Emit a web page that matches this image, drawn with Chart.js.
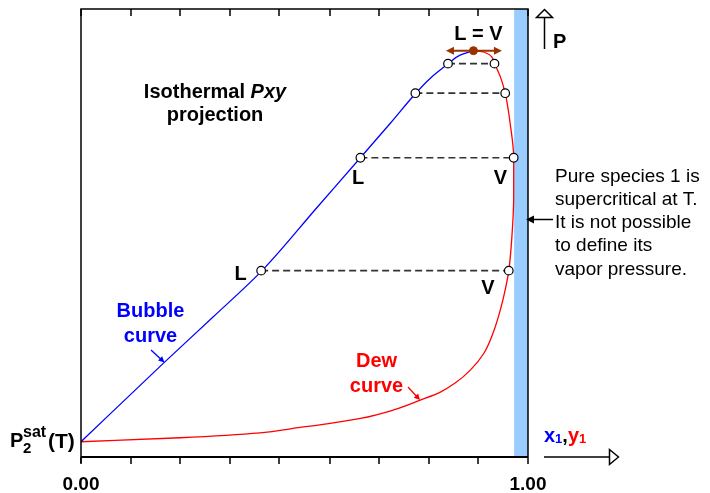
<!DOCTYPE html>
<html>
<head>
<meta charset="utf-8">
<script src="https://cdn.jsdelivr.net/npm/chart.js@4.4.1/dist/chart.umd.min.js"></script>
<style>
  html, body { margin: 0; padding: 0; background: #fff; }
</style>
</head>
<body>
<canvas id="chart" width="710" height="493"></canvas>
<script>
// bubble curve: liquid mole fraction x1 vs P
const bubbleX = [0, 0.184, 0.296, 0.405, 0.528, 0.625, 0.692, 0.749, 0.781, 0.822, 0.848, 0.878];
const bubbleP = [3.4, 20.9, 31.3, 41.6, 55.7, 66.8, 74.5, 81.2, 84.5, 87.8, 89.7, 90.7];

// dew curve: vapour mole fraction y1 vs P
const dewY = [0, 0.222, 0.401, 0.475, 0.550, 0.625, 0.699, 0.759, 0.804, 0.837, 0.871, 0.901, 0.923,
              0.938, 0.949, 0.957, 0.964, 0.968, 0.968, 0.960, 0.949, 0.938, 0.925, 0.901, 0.878];
const dewP = [3.4, 4.3, 5.4, 6.4, 7.4, 8.6, 10.5, 12.7, 14.5, 16.5, 19.4, 23.1, 28.0,
              32.8, 37.3, 41.6, 49.2, 58.1, 66.8, 74.5, 81.2, 84.9, 87.8, 90.4, 90.7];

// tie lines
const tieP = [41.6, 66.8, 81.2, 87.8];
const tieLiq = [0.403, 0.625, 0.748, 0.821];
const tieVap = [0.957, 0.968, 0.949, 0.925];

// critical point
const critX = 0.878;
const critP = 90.7;

// region where species 1 is supercritical
const superX = [0.969, 1.0];

const xTicks = [0, 0.111, 0.222, 0.333, 0.444, 0.556, 0.667, 0.778, 0.889, 1];
const xTickLabels = ["0.00", "", "", "", "", "", "", "", "", "1.00"];

const FONT = "'Liberation Sans', Arial, sans-serif";

function pts(xs, ys) {
  return xs.map((v, i) => ({ x: v, y: ys[i] }));
}

function head(ctx, tx, ty, ang, len, half, filled) {
  const c = Math.cos(ang), s = Math.sin(ang);
  const bx = tx - len * c, by = ty - len * s;
  ctx.beginPath();
  ctx.moveTo(tx, ty);
  ctx.lineTo(bx - half * s, by + half * c);
  ctx.lineTo(bx + half * s, by - half * c);
  ctx.closePath();
  if (filled) {
    ctx.fill();
  } else {
    ctx.fillStyle = "#fff";
    ctx.fill();
    ctx.stroke();
  }
}

function arrow(ctx, x1, y1, x2, y2, len, half) {
  const ang = Math.atan2(y2 - y1, x2 - x1);
  ctx.beginPath();
  ctx.moveTo(x1, y1);
  ctx.lineTo(x2 - len * 0.8 * Math.cos(ang), y2 - len * 0.8 * Math.sin(ang));
  ctx.stroke();
  head(ctx, x2, y2, ang, len, half, true);
}

function text(ctx, str, x, y, font, color, align) {
  ctx.font = font;
  ctx.fillStyle = color;
  ctx.textAlign = align || "center";
  ctx.textBaseline = "alphabetic";
  ctx.fillText(str, x, y);
}

const decor = {
  id: "decor",
  beforeDatasetsDraw(chart) {
    const { ctx, chartArea: a, scales: { x } } = chart;
    const x0 = x.getPixelForValue(superX[0]);
    const x1 = x.getPixelForValue(superX[1]);
    ctx.save();
    ctx.fillStyle = "#99CCFF";
    ctx.fillRect(x0, a.top, x1 - x0, a.bottom - a.top);
    ctx.restore();
  },
  afterDatasetsDraw(chart) {
    const { ctx, chartArea: a, scales: { x, y } } = chart;
    ctx.save();

    // frame
    ctx.strokeStyle = "#000";
    ctx.lineWidth = 1.5;
    ctx.beginPath();
    ctx.moveTo(a.left, a.bottom + 6);
    ctx.lineTo(a.left, a.top);
    ctx.lineTo(a.right, a.top);
    ctx.lineTo(a.right, a.bottom);
    ctx.stroke();
    ctx.lineWidth = 2;
    ctx.beginPath();
    ctx.moveTo(a.left, a.bottom);
    ctx.lineTo(a.right, a.bottom);
    ctx.stroke();

    // ticks top (inward) and bottom (outward)
    ctx.lineWidth = 1.5;
    xTicks.forEach((t, i) => {
      const px = Math.round(x.getPixelForValue(t));
      ctx.beginPath();
      ctx.moveTo(px, a.top);
      ctx.lineTo(px, a.top + 7);
      ctx.moveTo(px, a.bottom);
      ctx.lineTo(px, a.bottom + 7);
      ctx.stroke();
      if (xTickLabels[i]) {
        text(ctx, xTickLabels[i], px, 490, "bold 19px " + FONT, "#000");
      }
    });

    // x1,y1 axis arrow
    ctx.lineWidth = 1.5;
    ctx.strokeStyle = "#000";
    ctx.beginPath();
    ctx.moveTo(544, a.bottom);
    ctx.lineTo(610, a.bottom);
    ctx.stroke();
    head(ctx, 618.5, a.bottom, 0, 9, 7.5, false);

    // P axis arrow
    ctx.beginPath();
    ctx.moveTo(544.5, 49);
    ctx.lineTo(544.5, 17.5);
    ctx.stroke();
    head(ctx, 544.5, 9.5, -Math.PI / 2, 8, 8, false);
    text(ctx, "P", 553, 48, "bold 20px " + FONT, "#000", "left");

    // x1,y1 label
    let cx = 544;
    ctx.font = "bold 20px " + FONT;
    text(ctx, "x", cx, 442, "bold 20px " + FONT, "#0000FF", "left");
    cx += ctx.measureText("x").width;
    ctx.font = "bold 13px " + FONT;
    text(ctx, "1", cx, 443, "bold 13px " + FONT, "#0000FF", "left");
    cx += ctx.measureText("1").width;
    ctx.font = "bold 20px " + FONT;
    text(ctx, ",", cx, 442, "bold 20px " + FONT, "#000", "left");
    cx += ctx.measureText(",").width;
    text(ctx, "y", cx, 442, "bold 20px " + FONT, "#FF0000", "left");
    cx += ctx.measureText("y").width;
    text(ctx, "1", cx, 443, "bold 13px " + FONT, "#FF0000", "left");

    // P2sat(T)
    text(ctx, "P", 10, 447, "bold 20px " + FONT, "#000", "left");
    text(ctx, "sat", 23, 437, "bold 16px " + FONT, "#000", "left");
    text(ctx, "2", 23, 453, "bold 15px " + FONT, "#000", "left");
    text(ctx, "(T)", 48, 448, "bold 21px " + FONT, "#000", "left");

    // title
    ctx.font = "bold 20px " + FONT;
    const w1 = ctx.measureText("Isothermal ").width;
    ctx.font = "italic bold 20px " + FONT;
    const w2 = ctx.measureText("Pxy").width;
    const sx = 215 - (w1 + w2) / 2;
    text(ctx, "Isothermal ", sx, 98, "bold 20px " + FONT, "#000", "left");
    text(ctx, "Pxy", sx + w1, 98, "italic bold 20px " + FONT, "#000", "left");
    text(ctx, "projection", 215, 120.5, "bold 20px " + FONT, "#000");

    // L / V labels
    const lab = "bold 20px " + FONT;
    text(ctx, "L = V", 478.5, 40, lab, "#000");
    text(ctx, "L", 358, 184, lab, "#000");
    text(ctx, "V", 500.5, 183.5, lab, "#000");
    text(ctx, "L", 240.5, 279.5, lab, "#000");
    text(ctx, "V", 488, 293.5, lab, "#000");

    // curve labels
    text(ctx, "Bubble", 150.5, 316.5, lab, "#0000FF");
    text(ctx, "curve", 150.5, 341.5, lab, "#0000FF");
    text(ctx, "Dew", 376.5, 366.5, lab, "#FF0000");
    text(ctx, "curve", 376.5, 391.5, lab, "#FF0000");

    ctx.lineWidth = 1.3;
    ctx.strokeStyle = "#0000FF";
    ctx.fillStyle = "#0000FF";
    arrow(ctx, 151, 350, 164.5, 362.5, 6, 3);
    ctx.strokeStyle = "#FF0000";
    ctx.fillStyle = "#FF0000";
    arrow(ctx, 408, 387, 420, 400, 6, 3);

    // critical point double arrow
    const cpx = x.getPixelForValue(critX);
    const cpy = y.getPixelForValue(critP);
    ctx.strokeStyle = "#993300";
    ctx.fillStyle = "#993300";
    ctx.lineWidth = 2;
    ctx.beginPath();
    ctx.moveTo(cpx - 22, cpy);
    ctx.lineTo(cpx + 22, cpy);
    ctx.stroke();
    head(ctx, cpx - 27.5, cpy, Math.PI, 8, 4, true);
    head(ctx, cpx + 28.5, cpy, 0, 8, 4, true);

    // note on the right
    const note = ["Pure species 1 is", "supercritical at T.", "It is not possible",
                  "to define its", "vapor pressure."];
    note.forEach((s, i) => {
      text(ctx, s, 555, 181.5 + i * 23.3, "19px " + FONT, "#000", "left");
    });
    ctx.strokeStyle = "#000";
    ctx.fillStyle = "#000";
    ctx.lineWidth = 1.5;
    arrow(ctx, 553, 219.5, 526, 219.5, 8, 4);

    ctx.restore();
  }
};

const datasets = [];

datasets.push({
  data: [{ x: critX, y: critP }],
  pointRadius: 4,
  pointBackgroundColor: "#993300",
  pointBorderColor: "#993300",
  showLine: false
});

tieP.forEach((p, i) => {
  datasets.push({
    data: [{ x: tieLiq[i], y: p }, { x: tieVap[i], y: p }],
    borderColor: "#333",
    borderWidth: 1.7,
    borderDash: [7, 4],
    tension: 0,
    pointRadius: 4.3,
    pointBorderWidth: 1.2,
    pointBackgroundColor: "#fff",
    pointBorderColor: "#000"
  });
});

// both curves rise monotonically in P, so interpolate along the P axis
datasets.push({
  data: pts(bubbleX, bubbleP),
  borderColor: "#0000FF",
  borderWidth: 1.3,
  cubicInterpolationMode: "monotone",
  pointRadius: 0
});

datasets.push({
  data: pts(dewY, dewP),
  borderColor: "#FF0000",
  borderWidth: 1.3,
  cubicInterpolationMode: "monotone",
  pointRadius: 0
});

new Chart(document.getElementById("chart"), {
  type: "line",
  data: { datasets },
  options: {
    indexAxis: "y",
    responsive: false,
    animation: false,
    devicePixelRatio: 1,
    layout: { padding: { left: 81, right: 182, top: 9, bottom: 36 } },
    plugins: { legend: { display: false }, tooltip: { enabled: false } },
    elements: { line: { fill: false } },
    scales: {
      x: { type: "linear", min: 0, max: 1, display: false },
      y: { type: "linear", min: 0, max: 100, display: false }
    }
  },
  plugins: [decor]
});
</script>
</body>
</html>
